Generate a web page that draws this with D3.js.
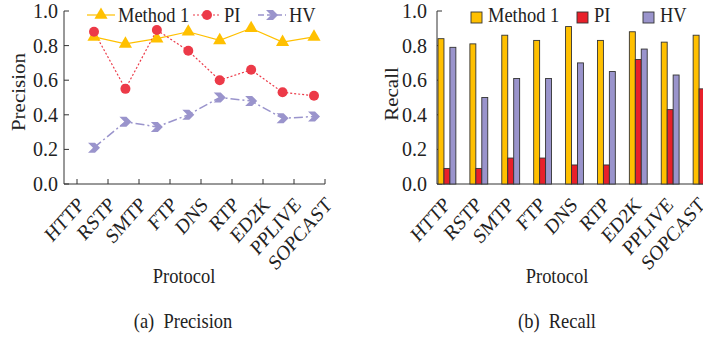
<!DOCTYPE html>
<html>
<head>
<meta charset="utf-8">
<script src="https://cdn.jsdelivr.net/npm/d3@7"></script>
<style>
  body { margin: 0; background: #fff; }
  svg { display: block; font-family: "Liberation Serif", "Times New Roman", serif; }
  text { white-space: pre; }
</style>
</head>
<body>
<div id="chart"></div>
<script>
const protocols = ['HTTP', 'RSTP', 'SMTP', 'FTP', 'DNS', 'RTP', 'ED2K', 'PPLIVE', 'SOPCAST'];
const seriesNames = ['Method 1', 'PI', 'HV'];
const yTicks = [0, 0.2, 0.4, 0.6, 0.8, 1.0];

// precision (line chart, 8 points per series as drawn)
const precMethod1 = [0.85, 0.81, 0.84, 0.88, 0.83, 0.90, 0.82, 0.85];
const precPI = [0.88, 0.55, 0.89, 0.77, 0.60, 0.66, 0.53, 0.51];
const precHV = [0.21, 0.36, 0.33, 0.40, 0.50, 0.48, 0.38, 0.39];

// recall (grouped bars)
const recMethod1 = [0.84, 0.81, 0.86, 0.83, 0.91, 0.83, 0.88, 0.82, 0.86];
const recPI = [0.09, 0.09, 0.15, 0.15, 0.11, 0.11, 0.72, 0.43, 0.55];
const recHV = [0.79, 0.50, 0.61, 0.61, 0.70, 0.65, 0.78, 0.63, 0.78];

const COLORS = { 'Method 1': '#FFC000', 'PI': '#EC3A48', 'HV': '#9A94CC' };
const BAR_COLORS = { 'Method 1': '#FFC000', 'PI': '#E8202A', 'HV': '#9A94CC' };
const TEXT = '#222';
const AXIS = '#333';
const FONT = 21;
const SQUEEZE = 0.88; // the figure text is a bit narrower than it is tall

const width = 703, height = 339;
const svg = d3.select('#chart').append('svg')
  .attr('width', width).attr('height', height);

const yScale = d3.scaleLinear().domain([0, 1]).range([184, 11]);

function label(g, x, y, t, anchor, rot) {
  return g.append('text')
    .attr('transform', `translate(${x},${y}) scale(${SQUEEZE},1)` + (rot ? ` rotate(${rot})` : ''))
    .attr('text-anchor', anchor || 'start')
    .attr('font-size', FONT).attr('fill', TEXT)
    .text(t);
}

function yAxis(g, x0, labelRight) {
  g.append('line')
    .attr('x1', x0).attr('x2', x0)
    .attr('y1', yScale(1)).attr('y2', yScale(0))
    .attr('stroke', AXIS);
  g.selectAll('.yt').data(yTicks).join('line')
    .attr('x1', x0).attr('x2', x0 + 5)
    .attr('y1', d => yScale(d)).attr('y2', d => yScale(d))
    .attr('stroke', AXIS);
  g.selectAll('.yl').data(yTicks).join('text')
    .attr('x', labelRight).attr('y', d => yScale(d))
    .attr('dy', '0.35em')
    .attr('text-anchor', 'end')
    .attr('font-size', 20).attr('fill', TEXT)
    .text(d => d.toFixed(1));
}

function catLabels(g, xPos) {
  protocols.forEach(p => label(g, xPos(p), yScale(0) + 22, p, 'end', -45));
}

// ---------- (a) Precision ----------
const left = svg.append('g');
const xTick = d3.scalePoint().domain(protocols).range([77, 325]);
const xPt = d3.scalePoint().domain(d3.range(precMethod1.length)).range([94, 314]);

yAxis(left, 64, 58);
left.append('line')
  .attr('x1', 64).attr('x2', 325)
  .attr('y1', yScale(0)).attr('y2', yScale(0))
  .attr('stroke', AXIS);
left.selectAll('.xt').data(protocols).join('line')
  .attr('x1', d => xTick(d)).attr('x2', d => xTick(d))
  .attr('y1', yScale(0)).attr('y2', yScale(0) - 5)
  .attr('stroke', AXIS);
catLabels(left, d => xTick(d) + 8);

const line = d3.line().x((d, i) => xPt(i)).y(d => yScale(d));
const chevron = 'M-6,-5 L1,-5 L6,0 L1,5 L-6,5 L-1,0 Z';

const lineSeries = [
  { name: 'Method 1', values: precMethod1, dash: null, width: 1.2 },
  { name: 'PI', values: precPI, dash: '2,2', width: 1.2 },
  { name: 'HV', values: precHV, dash: '9,3,2,3', width: 1.5 }
];

lineSeries.forEach(s => {
  left.append('path')
    .datum(s.values)
    .attr('d', line)
    .attr('fill', 'none')
    .attr('stroke', COLORS[s.name])
    .attr('stroke-width', s.width)
    .attr('stroke-dasharray', s.dash);
});

function marker(sel, name) {
  if (name === 'Method 1') {
    sel.append('path').attr('d', d3.symbol(d3.symbolTriangle, 75)()).attr('fill', COLORS[name]);
  } else if (name === 'PI') {
    sel.append('circle').attr('r', 5).attr('fill', COLORS[name]);
  } else {
    sel.append('path').attr('d', chevron).attr('fill', COLORS[name]);
  }
}

lineSeries.forEach(s => {
  left.selectAll(null).data(s.values).join('g')
    .attr('transform', (d, i) => `translate(${xPt(i)},${yScale(d)})`)
    .each(function () { marker(d3.select(this), s.name); });
});

// legend (a)
const legA = [
  { name: 'Method 1', x: 87 },
  { name: 'PI', x: 193 },
  { name: 'HV', x: 258 }
];
legA.forEach(l => {
  const s = lineSeries.find(d => d.name === l.name);
  const g = left.append('g');
  g.append('line')
    .attr('x1', l.x).attr('x2', l.x + 28)
    .attr('y1', 15).attr('y2', 15)
    .attr('stroke', COLORS[l.name])
    .attr('stroke-width', s.width)
    .attr('stroke-dasharray', l.name === 'HV' ? '6,3' : s.dash);
  const m = g.append('g').attr('transform', `translate(${l.x + 14},15)`);
  marker(m, l.name);
  label(g, l.x + 31, 22, l.name);
});

label(left, 25, 92, 'Precision', 'middle', -90);
label(svg, 184, 283, 'Protocol', 'middle');
label(svg, 183, 328, '(a)  Precision', 'middle');

// ---------- (b) Recall ----------
const right = svg.append('g');
const x0 = d3.scaleBand().domain(protocols).range([438, 711]).paddingInner(0.44).paddingOuter(0);
const x1 = d3.scaleBand().domain(seriesNames).range([0, x0.bandwidth()]);

const recallBySeries = { 'Method 1': recMethod1, 'PI': recPI, 'HV': recHV };

yAxis(right, 437, 427);
right.append('line')
  .attr('x1', 437).attr('x2', width)
  .attr('y1', yScale(0)).attr('y2', yScale(0))
  .attr('stroke', AXIS);

right.selectAll('.grp').data(protocols).join('g')
  .attr('transform', d => `translate(${x0(d)},0)`)
  .selectAll('rect')
  .data((d, i) => seriesNames.map(n => ({ name: n, value: recallBySeries[n][i] })))
  .join('rect')
  .attr('x', d => x1(d.name))
  .attr('y', d => yScale(d.value))
  .attr('width', x1.bandwidth())
  .attr('height', d => yScale(0) - yScale(d.value))
  .attr('fill', d => BAR_COLORS[d.name])
  .attr('stroke', '#333')
  .attr('stroke-width', 0.9);

catLabels(right, d => x0(d) + x0.bandwidth() / 2 + 4);

const legB = [
  { name: 'Method 1', x: 471 },
  { name: 'PI', x: 577 },
  { name: 'HV', x: 643 }
];
legB.forEach(l => {
  right.append('rect')
    .attr('x', l.x).attr('y', 12)
    .attr('width', 11).attr('height', 11)
    .attr('fill', BAR_COLORS[l.name])
    .attr('stroke', '#333').attr('stroke-width', 0.9);
  label(right, l.x + 17, 22, l.name);
});

label(right, 398, 94, 'Recall', 'middle', -90);
label(svg, 557, 283, 'Protocol', 'middle');
label(svg, 557, 328, '(b)  Recall', 'middle');
</script>
</body>
</html>
